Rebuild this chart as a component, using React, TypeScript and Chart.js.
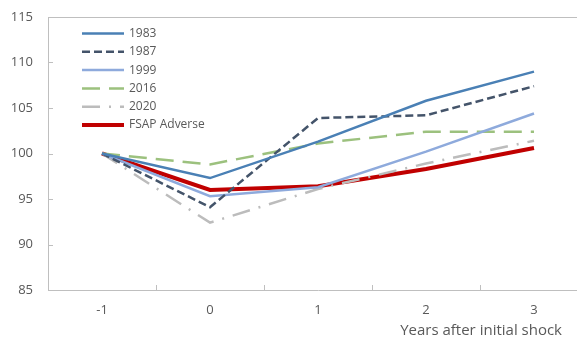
import React, { useEffect, useRef } from "react";
import { Chart, registerables } from "chart.js";

Chart.register(...registerables);

const categories = ["-1", "0", "1", "2", "3"];
const s1983 = [100, 97.3, 101.3, 105.8, 109.0];
const s1987 = [100, 94.1, 103.9, 104.2, 107.4];
const s1999 = [100, 95.3, 96.3, 100.2, 104.4];
const s2016 = [100, 98.8, 101.1, 102.4, 102.4];
const s2020 = [100, 92.4, 96.1, 98.9, 101.4];
const sFsap = [100, 96.0, 96.4, 98.3, 100.6];
const seriesNames = ["1983", "1987", "1999", "2016", "2020", "FSAP Adverse"];
const yTicks = [85, 90, 95, 100, 105, 110, 115];
const xTitle = "Years after initial shock";

const FONT = "'Open Sans', 'Noto Sans', sans-serif";
const TEXT = "#595959";
const AXIS = "#bfbfbf";

const decorPlugin = {
  id: "decor",
  afterDraw(chart: any) {
    const ctx = chart.ctx;
    const x = chart.scales.x;
    const y = chart.scales.y;
    const area = chart.chartArea;
    ctx.save();
    // inside tick marks + top border
    ctx.strokeStyle = AXIS;
    ctx.lineWidth = 1;
    ctx.beginPath();
    y.ticks.forEach((_t: any, i: number) => {
      const py = Math.round(y.getPixelForTick(i)) + 0.5;
      ctx.moveTo(area.left, py);
      ctx.lineTo(area.left + 5, py);
    });
    const half = (x.getPixelForValue(1) - x.getPixelForValue(0)) / 2;
    for (let i = 0; i < categories.length; i++) {
      const px = Math.round(x.getPixelForValue(i) + half) + 0.5;
      ctx.moveTo(px, area.bottom);
      ctx.lineTo(px, area.bottom - 5);
    }
    const ty = Math.round(area.top) + 0.5;
    ctx.moveTo(area.left, ty);
    ctx.lineTo(area.right, ty);
    ctx.stroke();

    // legend
    const lx0 = 82;
    const lx1 = 124;
    const ly0 = 33.5;
    const step = 18.3;
    ctx.font = `12px ${FONT}`;
    ctx.fillStyle = TEXT;
    ctx.textBaseline = "middle";
    ctx.textAlign = "left";
    chart.data.datasets.forEach((ds: any, i: number) => {
      const ly = ly0 + i * step;
      ctx.save();
      ctx.strokeStyle = ds.borderColor;
      ctx.lineWidth = ds.borderWidth;
      ctx.setLineDash(ds.borderDash || []);
      ctx.lineCap = "butt";
      ctx.beginPath();
      ctx.moveTo(lx0, ly);
      ctx.lineTo(lx1, ly);
      ctx.stroke();
      ctx.restore();
      ctx.fillText(ds.label, lx1 + 5, ly);
    });

    // axis title
    ctx.font = `15px ${FONT}`;
    ctx.textAlign = "right";
    ctx.fillStyle = TEXT;
    ctx.fillText(xTitle, 562, 331);
    ctx.restore();
  },
};

export default function App() {
  const ref = useRef<HTMLCanvasElement>(null);

  useEffect(() => {
    if (!ref.current) return;
    const mk = (i: number, data: number[], color: string, width: number, dash: number[]) => ({
      label: seriesNames[i],
      data,
      borderColor: color,
      backgroundColor: color,
      borderWidth: width,
      borderDash: dash,
      pointRadius: 0,
      tension: 0,
      fill: false,
    });
    const chart = new Chart(ref.current, {
      type: "line",
      data: {
        labels: categories,
        datasets: [
          mk(0, s1983, "#4a80b5", 2.5, []),
          mk(1, s1987, "#44546a", 2.5, [8, 4]),
          mk(2, s1999, "#8eaadc", 2.5, []),
          mk(3, s2016, "#9cc17e", 2.5, [18, 9]),
          mk(4, s2020, "#bcbcbc", 2.5, [18, 9, 2, 9]),
          mk(5, sFsap, "#c00000", 4, []),
        ],
      },
      options: {
        responsive: false,
        animation: false,
        layout: { padding: { top: 17, left: 0, right: 0, bottom: 0 } },
        plugins: { legend: { display: false }, tooltip: { enabled: false } },
        scales: {
          x: {
            type: "category",
            offset: true,
            grid: { display: true, drawOnChartArea: false, drawTicks: false },
            border: { display: true, color: AXIS, width: 1 },
            ticks: { color: TEXT, font: { family: FONT, size: 13 }, padding: 12, maxRotation: 0 },
            afterFit(scale: any) {
              scale.height = 49;
              scale.paddingLeft = 0;
              scale.paddingRight = 0;
            },
          },
          y: {
            min: 85,
            max: 115,
            afterBuildTicks(scale: any) {
              scale.ticks = yTicks.map((v) => ({ value: v }));
            },
            grid: { display: true, drawOnChartArea: false, drawTicks: false },
            border: { display: true, color: AXIS, width: 1 },
            ticks: { color: TEXT, font: { family: FONT, size: 13 }, padding: 15 },
            afterFit(scale: any) {
              scale.width = 48;
              scale.paddingTop = 0;
              scale.paddingBottom = 0;
            },
          },
        },
      },
      plugins: [decorPlugin],
    });
    return () => chart.destroy();
  }, []);

  return (
    <div style={{ position: "fixed", left: 0, top: 0, width: 577, height: 339, overflow: "hidden", background: "#fff" }}>
      <canvas ref={ref} width={588} height={339} style={{ display: "block", width: 588, height: 339 }} />
    </div>
  );
}
